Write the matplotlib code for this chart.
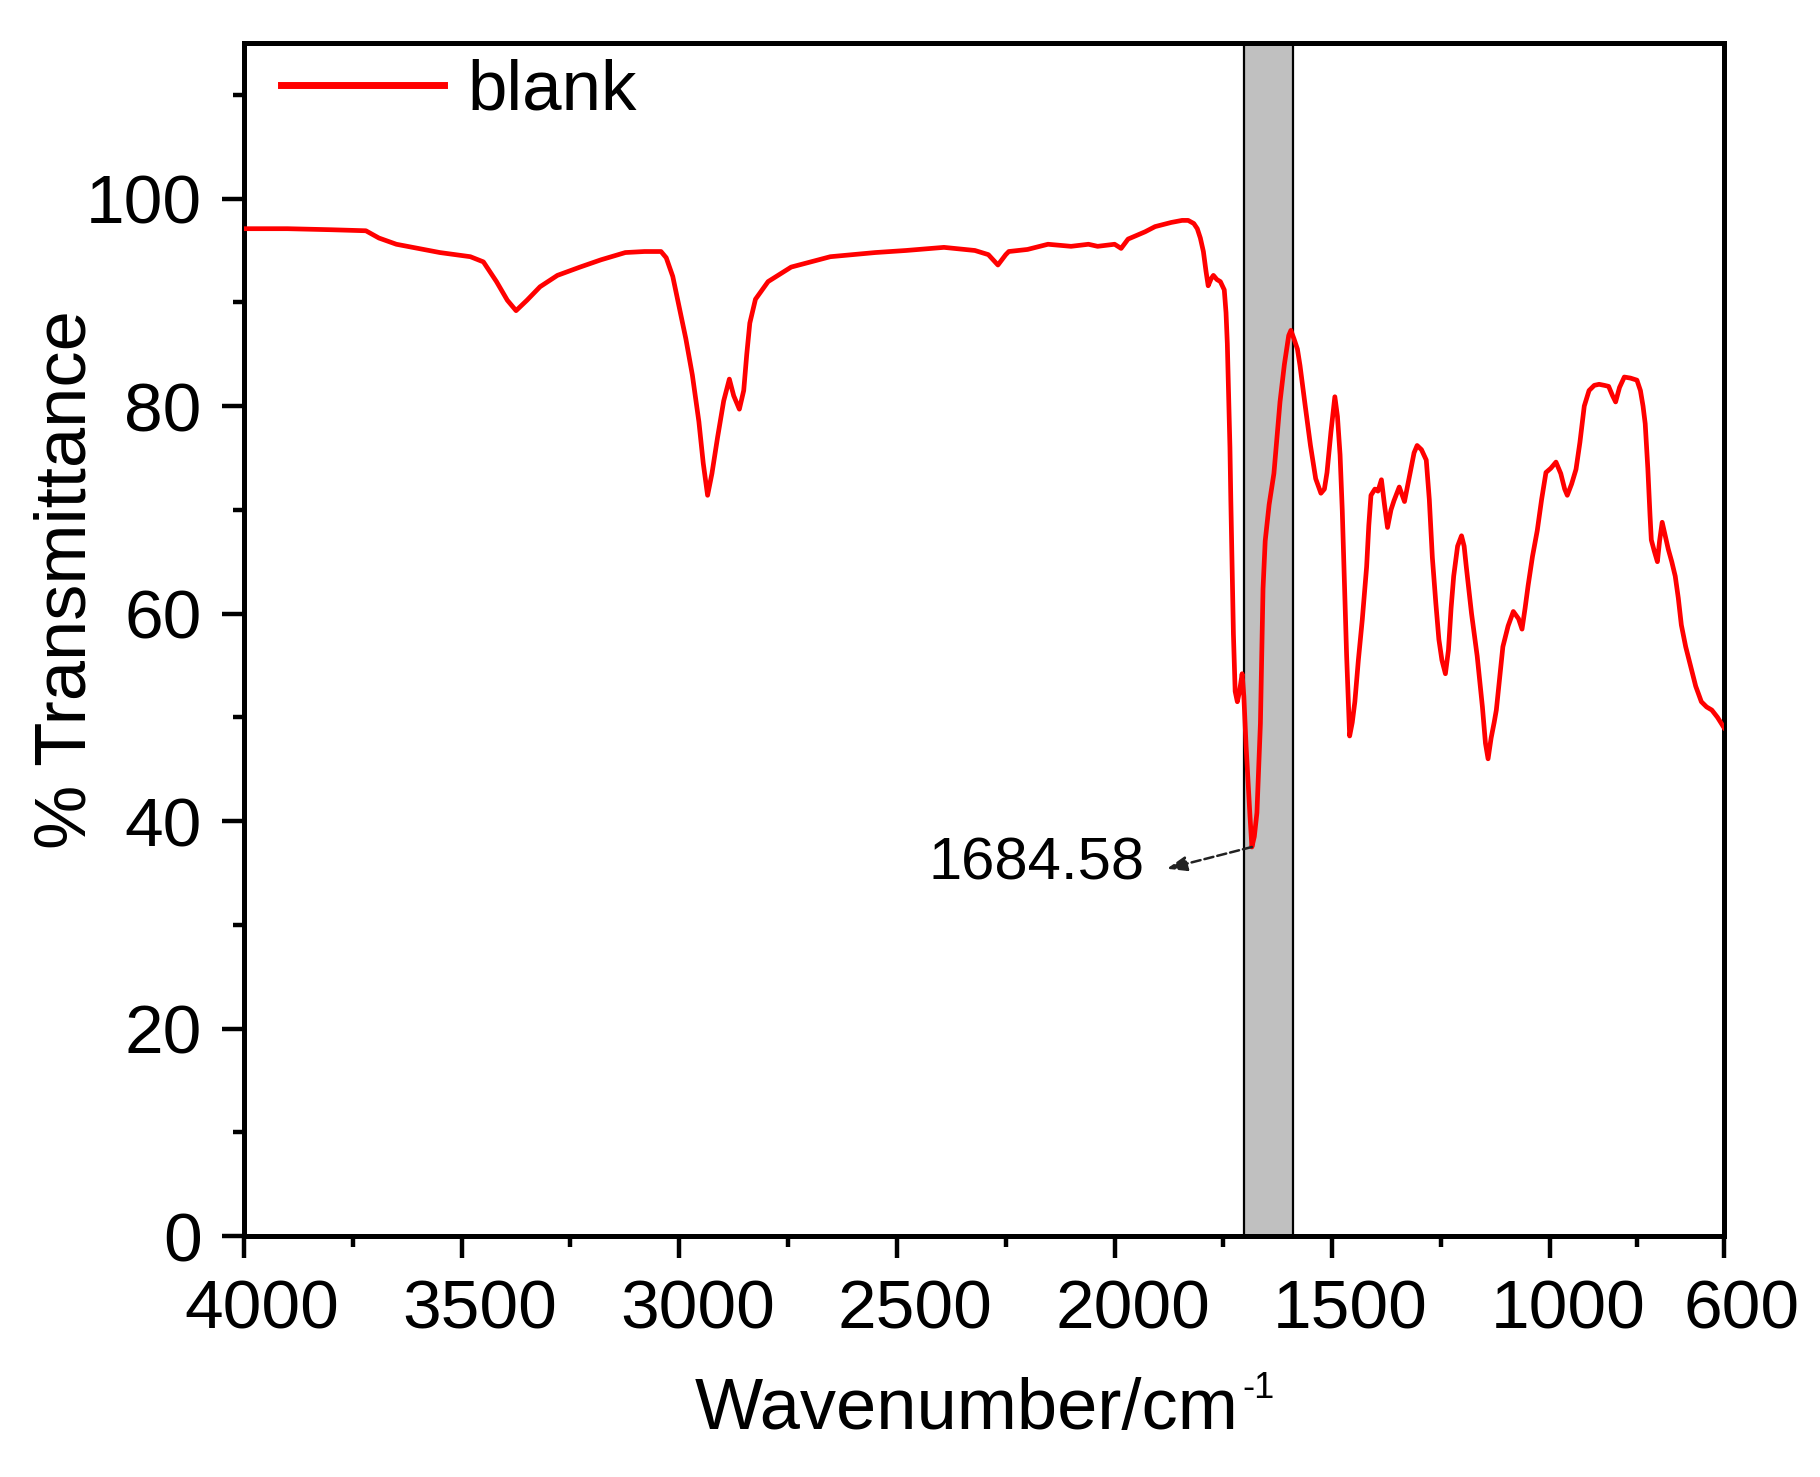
import matplotlib
matplotlib.use("Agg")
import matplotlib.pyplot as plt
import matplotlib.transforms as mtransforms
from matplotlib.lines import Line2D

plt.rcParams['font.family'] = ['Liberation Sans', 'DejaVu Sans']

# ---- data ----
wavenumber = [4000, 3900, 3800, 3720, 3690, 3650, 3600, 3550, 3480, 3450, 3420, 3395, 3375, 3350, 3320,
              3280, 3228, 3180, 3124, 3080, 3042, 3030, 3015, 3000, 2985, 2970, 2955, 2945, 2935, 2925,
              2912, 2898, 2885, 2875, 2862, 2852, 2845, 2838, 2825, 2796, 2743, 2653, 2550, 2479, 2392,
              2321, 2290, 2268, 2250, 2243, 2200, 2153, 2100, 2060, 2039, 2000, 1985, 1969, 1930, 1907,
              1870, 1845, 1831, 1818, 1810, 1803, 1796, 1790, 1785, 1778, 1773, 1765, 1757, 1748, 1744,
              1741, 1738, 1735, 1733, 1730, 1727, 1723, 1718, 1713, 1707, 1703, 1698, 1693, 1689, 1684.58,
              1679, 1673, 1669, 1665, 1662, 1659, 1654, 1645, 1634, 1627, 1620, 1610, 1600, 1595, 1588,
              1580, 1574, 1562, 1550, 1538, 1526, 1518, 1512, 1503, 1494, 1488, 1482, 1477, 1473, 1467,
              1460, 1454, 1448, 1440, 1431, 1421, 1416, 1411, 1402, 1395, 1387, 1380, 1373, 1365, 1358,
              1346, 1334, 1326, 1319, 1312, 1305, 1295, 1284, 1277, 1270, 1262, 1255, 1248, 1240, 1233,
              1227, 1221, 1212, 1203, 1197, 1192, 1180, 1167, 1155, 1148, 1142, 1135, 1128, 1123, 1115,
              1108, 1096, 1084, 1072, 1064, 1057, 1050, 1040, 1029, 1019, 1009, 998, 986, 975, 966,
              960, 950, 940, 931, 921, 910, 898, 887, 875, 865, 856, 849, 840, 829, 815,
              800, 792, 786, 781, 775, 770, 767, 760, 753, 748, 742, 735, 728, 720, 712,
              705, 698, 688, 677, 665, 652, 640, 628, 615, 600]
transmittance = [97.1, 97.1, 97.0, 96.9, 96.2, 95.6, 95.2, 94.8, 94.4, 93.9, 92.0, 90.2, 89.2, 90.2, 91.5,
                 92.6, 93.4, 94.1, 94.8, 94.9, 94.9, 94.3, 92.5, 89.5, 86.5, 83.0, 78.5, 74.5, 71.4, 73.5,
                 77.0, 80.5, 82.6, 81.0, 79.7, 81.5, 85.0, 88.0, 90.3, 92.0, 93.4, 94.4, 94.8, 95.0, 95.3,
                 95.0, 94.6, 93.6, 94.6, 94.9, 95.1, 95.6, 95.4, 95.6, 95.4, 95.6, 95.2, 96.1, 96.8, 97.3,
                 97.7, 97.9, 97.9, 97.6, 97.1, 96.2, 94.9, 93.0, 91.6, 92.3, 92.6, 92.2, 92.0, 91.2, 89.0,
                 86.0, 81.0, 76.0, 71.0, 64.5, 58.0, 52.5, 51.5, 52.5, 54.2, 52.0, 47.3, 43.5, 40.5, 37.5,
                 38.5, 40.8, 45.0, 49.4, 56.0, 62.4, 67.0, 70.5, 73.5, 77.0, 80.4, 84.0, 86.8, 87.3, 86.5,
                 85.5, 83.9, 80.0, 76.2, 73.0, 71.6, 72.0, 73.6, 77.5, 80.9, 79.0, 75.3, 70.0, 64.5, 56.0,
                 48.2, 49.5, 51.5, 55.5, 59.4, 64.5, 68.5, 71.4, 72.0, 71.8, 72.9, 70.5, 68.3, 70.0, 70.9,
                 72.2, 70.8, 72.5, 74.0, 75.5, 76.2, 75.8, 74.8, 71.0, 65.4, 61.0, 57.5, 55.5, 54.2, 56.5,
                 60.5, 63.6, 66.5, 67.5, 66.5, 64.5, 60.0, 55.9, 51.0, 47.5, 46.0, 48.0, 49.5, 50.7, 54.0,
                 56.8, 58.8, 60.2, 59.5, 58.5, 60.5, 62.7, 65.5, 68.0, 71.0, 73.6, 74.0, 74.6, 73.5, 72.0,
                 71.4, 72.5, 73.9, 76.5, 80.0, 81.5, 82.0, 82.1, 82.0, 81.9, 81.0, 80.4, 81.8, 82.8, 82.7,
                 82.5, 81.5, 80.0, 78.3, 74.0, 69.5, 67.1, 66.0, 65.0, 67.0, 68.8, 67.5, 66.2, 65.0, 63.6,
                 61.5, 58.9, 56.8, 55.0, 53.0, 51.5, 51.0, 50.7, 50.0, 49.0]
series_label = "blank"
band_range = (1703, 1590)
peak_position = 1684.58
peak_value = 37.5
peak_label = "1684.58"
x_major_ticks = [4000, 3500, 3000, 2500, 2000, 1500, 1000, 600]
x_minor_ticks = [3750, 3250, 2750, 2250, 1750, 1250, 800]
y_major_ticks = [0, 20, 40, 60, 80, 100]
y_minor_ticks = [10, 30, 50, 70, 90, 110]
x_title = "Wavenumber/cm"
x_title_sup = "-1"
y_title = "% Transmittance"

W, H = 1820, 1477
fig = plt.figure(figsize=(W / 100, H / 100), dpi=100)
ax = fig.add_axes([244 / W, 1 - 1236 / H, 1480 / W, 1193 / H])

ax.axvspan(band_range[1], band_range[0], facecolor='#c0c0c0', edgecolor='black', lw=1.6, zorder=1)
ax.plot(wavenumber, transmittance, color='#ff0000', lw=3.4, zorder=3, label=series_label,
        solid_joinstyle='round')

ax.set_xlim(4000, 600)
ax.set_ylim(0, 115)
ax.set_xticks(x_major_ticks)
ax.set_xticks(x_minor_ticks, minor=True)
ax.set_yticks(y_major_ticks)
ax.set_yticks(y_minor_ticks, minor=True)
ax.tick_params(which='major', direction='out', length=15.5, width=3.2, labelsize=50, pad=15)
ax.tick_params(which='minor', direction='out', length=8, width=3.2)
for s in ax.spines.values():
    s.set_linewidth(3.6)

# x tick labels sit slightly right of their ticks in the reference
offset = mtransforms.ScaledTranslation(18 / 100, 0, fig.dpi_scale_trans)
for t in ax.xaxis.get_major_ticks():
    t.label1.set_transform(t.label1.get_transform() + offset)

ax.set_xlabel(x_title, fontsize=52)
ax.set_ylabel(y_title, fontsize=52)
ax.xaxis.set_label_coords(0.5 - 0.012, -0.118)
ax.yaxis.set_label_coords(-0.097, 0.55)

handle = Line2D([], [], color='#ff0000', lw=5)
ax.legend([handle], [series_label], loc='center left', bbox_to_anchor=(0.025, 0.959),
          frameon=False, fontsize=51, handlelength=2.3, handletextpad=0.33,
          borderpad=0, borderaxespad=0)

ax.annotate('', xy=(1880, 35.4), xytext=(peak_position, peak_value),
            arrowprops=dict(arrowstyle='-|>,head_length=1.2,head_width=0.45', ls='--', lw=1.8,
                            color='#222222', shrinkA=0, shrinkB=0), zorder=4)
ax.text(1930, 34.4, peak_label, ha='right', va='baseline', fontsize=43)

# superscript of the x title, placed right after the title text
fig.canvas.draw()
bb = ax.xaxis.label.get_window_extent()
fig.text((bb.x1 + 4) / W, (bb.y1 + 6) / H, x_title_sup, fontsize=26, ha='left', va='top')

fig.savefig('out.png', dpi=100, facecolor='white')
